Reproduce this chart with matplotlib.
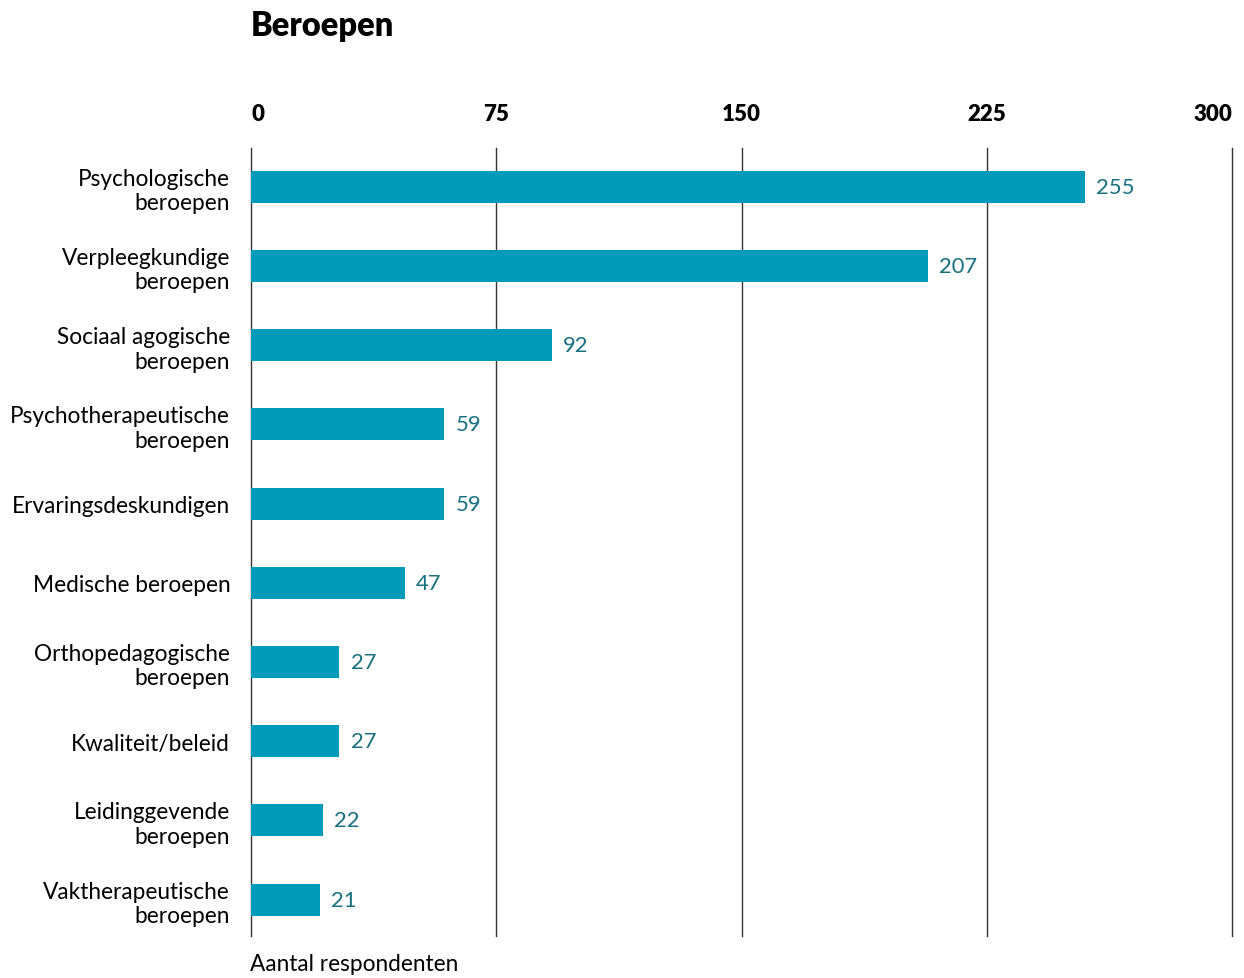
import matplotlib.pyplot as plt
import numpy as np

# data
beroepen = ['Psychologische\nberoepen', 'Verpleegkundige\nberoepen', 'Sociaal agogische\nberoepen',
            'Psychotherapeutische\nberoepen', 'Ervaringsdeskundigen', 'Medische beroepen',
            'Orthopedagogische\nberoepen', 'Kwaliteit/beleid', 'Leidinggevende\nberoepen',
            'Vaktherapeutische\nberoepen']
aantal = [255, 207, 92, 59, 59, 47, 27, 27, 22, 21]
ticks = [0, 75, 150, 225, 300]

plt.rcParams['font.family'] = ['Lato', 'DejaVu Sans']

fig = plt.figure(figsize=(12.44, 9.79), dpi=100)
ax = fig.add_axes([251/1244, 1-937/979, (1232-251)/1244, (937-149)/979])

y_pos = np.arange(len(aantal))
ax.barh(y_pos, aantal, height=0.405, color='#009bbb', zorder=3)
for y, v in zip(y_pos, aantal):
    ax.text(v + 3.5, y, str(v), va='center', ha='left', fontsize=15.8, color='#17707f')

ax.set_xlim(0, 300)
ax.set_ylim(9.46, -0.49)
ax.set_xticks(ticks)
ax.xaxis.tick_top()
ax.tick_params(axis='x', length=0, pad=17, labelsize=16)
ax.set_xticklabels([str(t) for t in ticks], fontweight='heavy')
labs = ax.get_xticklabels()
labs[0].set_ha('left')
labs[-1].set_ha('right')
ax.grid(axis='x', color='#333333', linewidth=1, zorder=0)
for gl in ax.get_xgridlines():
    gl.set_clip_on(False)
ax.set_yticks(y_pos)
ax.set_yticklabels(beroepen, fontsize=16.3, linespacing=1.2)
ax.tick_params(axis='y', length=0, pad=15)
for s in ax.spines.values():
    s.set_visible(False)

fig.text(251/1244, 1-26/979, 'Beroepen', fontsize=23.5, fontweight='heavy', va='center', ha='left')
fig.text(250/1244, 1-965/979, 'Aantal respondenten', fontsize=16.3, va='center', ha='left')

fig.savefig('out.png', dpi=100)
